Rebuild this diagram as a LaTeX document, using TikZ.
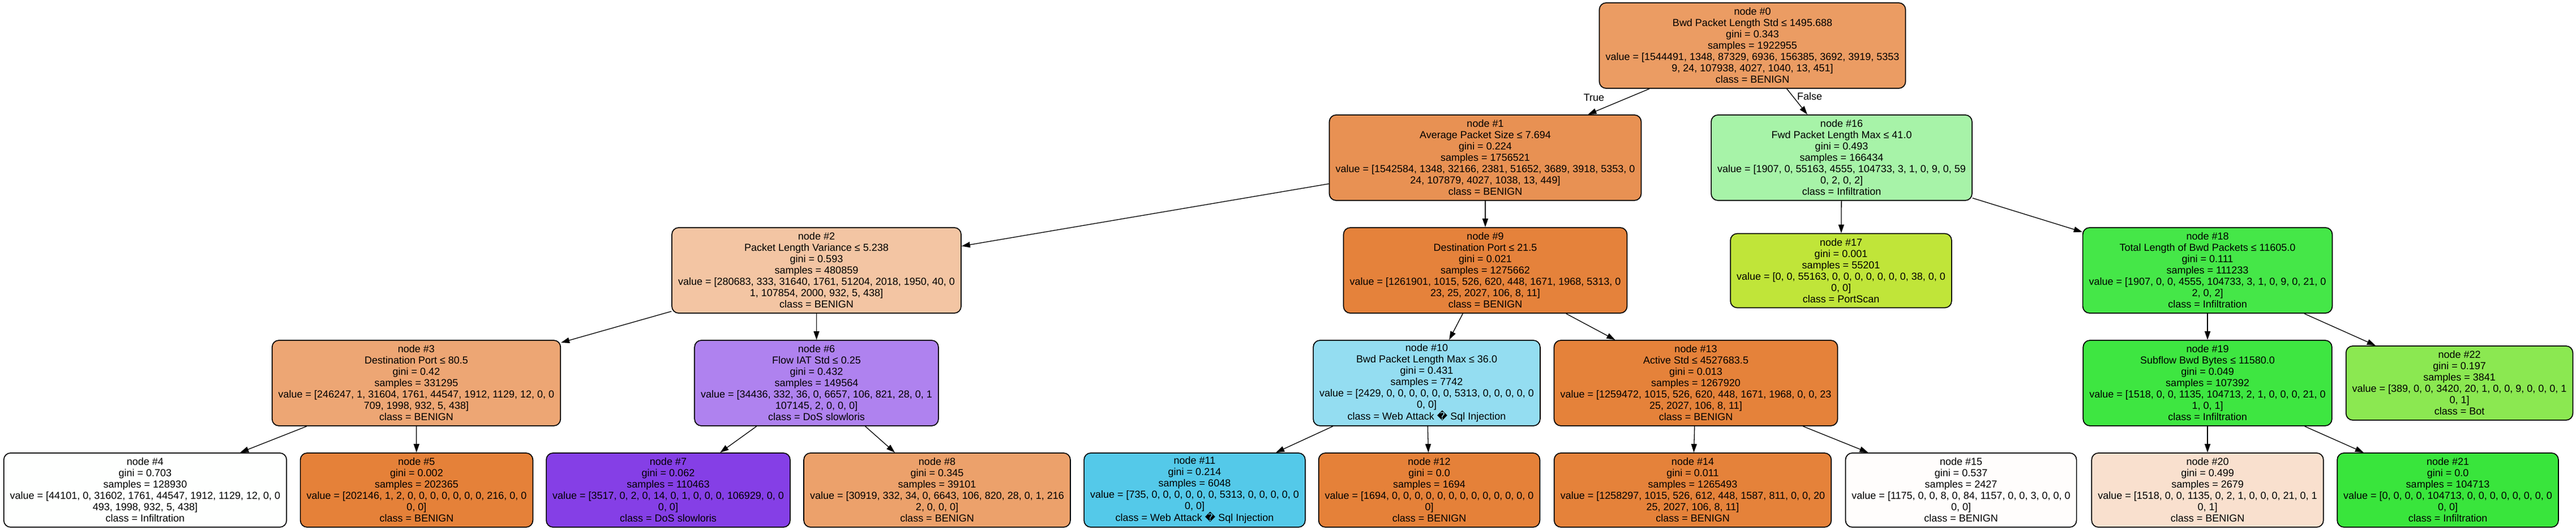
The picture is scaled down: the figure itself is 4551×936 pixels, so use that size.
\documentclass[tikz,border=0pt]{standalone}
\usepackage{fontspec}
\setmainfont{Liberation Sans}
\newfontfamily\symfont{DejaVu Sans}
\usetikzlibrary{arrows.meta}

% fill colours, one per node
\definecolor{fill0}{RGB}{235,156,99}
\definecolor{fill1}{RGB}{232,145,83}
\definecolor{fill2}{RGB}{243,197,163}
\definecolor{fill3}{RGB}{237,166,116}
\definecolor{fill4}{RGB}{254,255,254}
\definecolor{fill5}{RGB}{229,129,57}
\definecolor{fill6}{RGB}{175,130,239}
\definecolor{fill7}{RGB}{133,63,230}
\definecolor{fill8}{RGB}{236,161,107}
\definecolor{fill9}{RGB}{229,130,59}
\definecolor{fill10}{RGB}{148,221,241}
\definecolor{fill11}{RGB}{84,201,233}
\definecolor{fill12}{RGB}{229,129,57}
\definecolor{fill13}{RGB}{229,130,58}
\definecolor{fill14}{RGB}{229,130,58}
\definecolor{fill15}{RGB}{255,253,252}
\definecolor{fill16}{RGB}{167,243,168}
\definecolor{fill17}{RGB}{192,229,57}
\definecolor{fill18}{RGB}{69,231,72}
\definecolor{fill19}{RGB}{62,230,65}
\definecolor{fill20}{RGB}{249,224,206}
\definecolor{fill21}{RGB}{57,229,60}
\definecolor{fill22}{RGB}{139,232,81}

\newcommand{\qmark}{{\symfont\char"FFFD}}

\begin{document}
\begin{tikzpicture}[x=1pt, y=-1pt,
    box/.style={draw=black, line width=1.7pt, rounded corners=12pt, align=center,
                inner xsep=11pt, inner ysep=2pt, font=\fontsize{18}{20}\selectfont},
    splitbox/.style={box, minimum height=151pt},
    leafbox/.style={box, minimum height=131pt},
    lbl/.style={inner sep=0pt, font=\fontsize{18}{20}\selectfont},
    link/.style={black, line width=1.3pt, -{Triangle[length=15pt, width=10pt]}}]
    \useasboundingbox (0,0) rectangle (4551,936);

    % level 0 and 1
    \node [splitbox, fill=fill0] at (3096, 80.5) (N0) {node \#0\\Bwd Packet Length Std ≤ 1495.688\\gini = 0.343\\samples = 1922955\\value = [1544491, 1348, 87329, 6936, 156385, 3692, 3919, 5353\\9, 24, 107938, 4027, 1040, 13, 451]\\class = BENIGN};
    \node [splitbox, fill=fill1] at (2624, 278.5) (N1) {node \#1\\Average Packet Size ≤ 7.694\\gini = 0.224\\samples = 1756521\\value = [1542584, 1348, 32166, 2381, 51652, 3689, 3918, 5353, 0\\24, 107879, 4027, 1038, 13, 449]\\class = BENIGN};
    \node [splitbox, fill=fill16] at (3253.5, 278.5) (N16) {node \#16\\Fwd Packet Length Max ≤ 41.0\\gini = 0.493\\samples = 166434\\value = [1907, 0, 55163, 4555, 104733, 3, 1, 0, 9, 0, 59\\0, 2, 0, 2]\\class = Infiltration};

    % level 2
    \node [splitbox, fill=fill2] at (1442.5, 477.5) (N2) {node \#2\\Packet Length Variance ≤ 5.238\\gini = 0.593\\samples = 480859\\value = [280683, 333, 31640, 1761, 51204, 2018, 1950, 40, 0\\1, 107854, 2000, 932, 5, 438]\\class = BENIGN};
    \node [splitbox, fill=fill9] at (2624, 477.5) (N9) {node \#9\\Destination Port ≤ 21.5\\gini = 0.021\\samples = 1275662\\value = [1261901, 1015, 526, 620, 448, 1671, 1968, 5313, 0\\23, 25, 2027, 106, 8, 11]\\class = BENIGN};
    \node [leafbox, fill=fill17] at (3252.5, 478) (N17) {node \#17\\gini = 0.001\\samples = 55201\\value = [0, 0, 55163, 0, 0, 0, 0, 0, 0, 0, 38, 0, 0\\0, 0]\\class = PortScan};
    \node [splitbox, fill=fill18] at (3900, 477.5) (N18) {node \#18\\Total Length of Bwd Packets ≤ 11605.0\\gini = 0.111\\samples = 111233\\value = [1907, 0, 0, 4555, 104733, 3, 1, 0, 9, 0, 21, 0\\2, 0, 2]\\class = Infiltration};

    % level 3
    \node [splitbox, fill=fill3] at (735.5, 676.5) (N3) {node \#3\\Destination Port ≤ 80.5\\gini = 0.42\\samples = 331295\\value = [246247, 1, 31604, 1761, 44547, 1912, 1129, 12, 0, 0\\709, 1998, 932, 5, 438]\\class = BENIGN};
    \node [splitbox, fill=fill6] at (1442.5, 676.5) (N6) {node \#6\\Flow IAT Std ≤ 0.25\\gini = 0.432\\samples = 149564\\value = [34436, 332, 36, 0, 6657, 106, 821, 28, 0, 1\\107145, 2, 0, 0, 0]\\class = DoS slowloris};
    \node [splitbox, fill=fill10] at (2520.5, 676.5) (N10) {node \#10\\Bwd Packet Length Max ≤ 36.0\\gini = 0.431\\samples = 7742\\value = [2429, 0, 0, 0, 0, 0, 0, 5313, 0, 0, 0, 0, 0\\0, 0]\\class = Web Attack \qmark{} Sql Injection};
    \node [splitbox, fill=fill13] at (2996, 676.5) (N13) {node \#13\\Active Std ≤ 4527683.5\\gini = 0.013\\samples = 1267920\\value = [1259472, 1015, 526, 620, 448, 1671, 1968, 0, 0, 23\\25, 2027, 106, 8, 11]\\class = BENIGN};
    \node [splitbox, fill=fill19] at (3900, 676.5) (N19) {node \#19\\Subflow Bwd Bytes ≤ 11580.0\\gini = 0.049\\samples = 107392\\value = [1518, 0, 0, 1135, 104713, 2, 1, 0, 0, 0, 21, 0\\1, 0, 1]\\class = Infiltration};
    \node [leafbox, fill=fill22] at (4345, 676.5) (N22) {node \#22\\gini = 0.197\\samples = 3841\\value = [389, 0, 0, 3420, 20, 1, 0, 0, 9, 0, 0, 0, 1\\0, 1]\\class = Bot};

    % level 4
    \node [leafbox, fill=fill4] at (256.5, 865.5) (N4) {node \#4\\gini = 0.703\\samples = 128930\\value = [44101, 0, 31602, 1761, 44547, 1912, 1129, 12, 0, 0\\493, 1998, 932, 5, 438]\\class = Infiltration};
    \node [leafbox, fill=fill5] at (736, 865.5) (N5) {node \#5\\gini = 0.002\\samples = 202365\\value = [202146, 1, 2, 0, 0, 0, 0, 0, 0, 0, 216, 0, 0\\0, 0]\\class = BENIGN};
    \node [leafbox, fill=fill7] at (1180.5, 865.5) (N7) {node \#7\\gini = 0.062\\samples = 110463\\value = [3517, 0, 2, 0, 14, 0, 1, 0, 0, 0, 106929, 0, 0\\0, 0]\\class = DoS slowloris};
    \node [leafbox, fill=fill8] at (1655.5, 865.5) (N8) {node \#8\\gini = 0.345\\samples = 39101\\value = [30919, 332, 34, 0, 6643, 106, 820, 28, 0, 1, 216\\2, 0, 0, 0]\\class = BENIGN};
    \node [leafbox, fill=fill11] at (2110.5, 865.5) (N11) {node \#11\\gini = 0.214\\samples = 6048\\value = [735, 0, 0, 0, 0, 0, 0, 5313, 0, 0, 0, 0, 0\\0, 0]\\class = Web Attack \qmark{} Sql Injection};
    \node [leafbox, fill=fill12] at (2525, 865.5) (N12) {node \#12\\gini = 0.0\\samples = 1694\\value = [1694, 0, 0, 0, 0, 0, 0, 0, 0, 0, 0, 0, 0, 0\\0]\\class = BENIGN};
    \node [leafbox, fill=fill14] at (2990.5, 865.5) (N14) {node \#14\\gini = 0.011\\samples = 1265493\\value = [1258297, 1015, 526, 612, 448, 1587, 811, 0, 0, 20\\25, 2027, 106, 8, 11]\\class = BENIGN};
    \node [leafbox, fill=fill15] at (3464.5, 865.5) (N15) {node \#15\\gini = 0.537\\samples = 2427\\value = [1175, 0, 0, 8, 0, 84, 1157, 0, 0, 3, 0, 0, 0\\0, 0]\\class = BENIGN};
    \node [leafbox, fill=fill20] at (3900, 865.5) (N20) {node \#20\\gini = 0.499\\samples = 2679\\value = [1518, 0, 0, 1135, 0, 2, 1, 0, 0, 0, 21, 0, 1\\0, 1]\\class = BENIGN};
    \node [leafbox, fill=fill21] at (4324.5, 865.5) (N21) {node \#21\\gini = 0.0\\samples = 104713\\value = [0, 0, 0, 0, 104713, 0, 0, 0, 0, 0, 0, 0, 0\\0, 0]\\class = Infiltration};

    % edges
    \draw [link] (N0) -- (N1);
    \draw [link] (N0) -- (N16);
    \node [lbl] at (2816, 172) (T) {True};
    \node [lbl] at (3197, 170) (F) {False};
    \draw [link] (N1) -- (N2);
    \draw [link] (N1) -- (N9);
    \draw [link] (N16) -- (N17);
    \draw [link] (N16) -- (N18);
    \draw [link] (N2) -- (N3);
    \draw [link] (N2) -- (N6);
    \draw [link] (N9) -- (N10);
    \draw [link] (N9) -- (N13);
    \draw [link] (N18) -- (N19);
    \draw [link] (N18) -- (N22);
    \draw [link] (N3) -- (N4);
    \draw [link] (N3) -- (N5);
    \draw [link] (N6) -- (N7);
    \draw [link] (N6) -- (N8);
    \draw [link] (N10) -- (N11);
    \draw [link] (N10) -- (N12);
    \draw [link] (N13) -- (N14);
    \draw [link] (N13) -- (N15);
    \draw [link] (N19) -- (N20);
    \draw [link] (N19) -- (N21);
\end{tikzpicture}
\end{document}
